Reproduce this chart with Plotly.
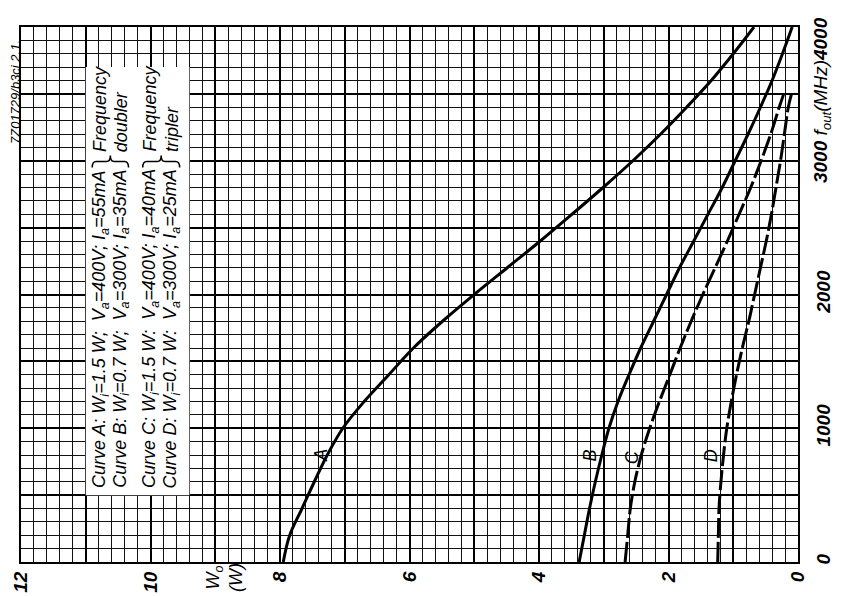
import plotly.graph_objects as go

# output frequency (MHz) and output power Wo (W)
f_ab = [0, 200, 400, 600, 800, 1000, 1200, 1400, 1600, 1800, 2000,
        2200, 2400, 2600, 2800, 3000, 3200, 3400, 3600, 3800, 4000]
w_a = [7.95, 7.85, 7.66, 7.47, 7.27, 7.03, 6.70, 6.32, 5.94, 5.49, 5.00,
       4.49, 3.98, 3.49, 3.01, 2.55, 2.12, 1.72, 1.34, 1.00, 0.68]
w_b = [3.38, 3.30, 3.22, 3.13, 3.03, 2.92, 2.78, 2.61, 2.43, 2.23, 2.03,
       1.83, 1.61, 1.39, 1.17, 0.97, 0.77, 0.58, 0.40, 0.24, 0.09]

f_cd = [0, 200, 400, 600, 800, 1000, 1200, 1400, 1600, 1800, 2000,
        2200, 2400, 2600, 2800, 3000, 3200, 3400, 3500]
w_c = [2.67, 2.63, 2.59, 2.52, 2.42, 2.29, 2.14, 1.98, 1.82, 1.65, 1.47,
       1.28, 1.09, 0.91, 0.73, 0.57, 0.42, 0.29, 0.22]
w_d = [1.24, 1.23, 1.22, 1.19, 1.15, 1.10, 1.03, 0.95, 0.86, 0.76, 0.67,
       0.58, 0.49, 0.41, 0.34, 0.27, 0.21, 0.15, 0.10]

w_ticks = list(range(0, 13))
w_labels = [str(v) if v % 2 == 0 else "" for v in w_ticks]
f_ticks = list(range(0, 4001, 500))
# 3000 and 4000 are printed together with the axis name, see below
f_labels = [str(v) if v % 1000 == 0 and v < 3000 else "" for v in f_ticks]

legend_lines = [
    "Curve A: W<sub>i</sub>=1.5 W;  V<sub>a</sub>=400V; I<sub>a</sub>=55mA",
    "Curve B: W<sub>i</sub>=0.7 W;  V<sub>a</sub>=300V; I<sub>a</sub>=35mA",
    "Curve C: W<sub>i</sub>=1.5 W:  V<sub>a</sub>=400V; I<sub>a</sub>=40mA",
    "Curve D: W<sub>i</sub>=0.7 W:  V<sub>a</sub>=300V; I<sub>a</sub>=25mA",
]
mode_lines = ["Frequency", "doubler", "Frequency", "tripler"]

FONT = "Liberation Sans"

fig = go.Figure()

solid = dict(color="black", width=3)
dashed = dict(color="black", width=3, dash="20px,4px")
fig.add_trace(go.Scatter(x=w_a, y=f_ab, mode="lines", line=solid, line_shape="spline"))
fig.add_trace(go.Scatter(x=w_b, y=f_ab, mode="lines", line=solid, line_shape="spline"))
fig.add_trace(go.Scatter(x=w_c, y=f_cd, mode="lines", line=dashed, line_shape="spline"))
fig.add_trace(go.Scatter(x=w_d, y=f_cd, mode="lines", line=dashed, line_shape="spline"))

# white patch behind the legend text
fig.add_shape(type="rect", x0=9.4, x1=11.0, y0=500, y1=3700,
              fillcolor="white", line_width=0, layer="between")


def note(text, x, y, size=18, ref="data", weight="normal", **kw):
    if ref == "paper":
        kw.update(xref="paper", yref="paper", xanchor="center", yanchor="middle")
    fig.add_annotation(x=x, y=y, text=text, showarrow=False, textangle=-90,
                       font=dict(family=FONT, size=size, color="black",
                                 style="italic", weight=weight), **kw)


def brace(xl, xr, y0, y1):
    # curly bracket spanning two text lines, tip pointing to higher f
    xm = (xl + xr) / 2
    y2 = y1 + (y1 - y0)
    d = 0.06
    path = (f"M {xl},{y0} Q {xl},{y1} {xl - d},{y1} L {xm + d},{y1} "
            f"Q {xm},{y1} {xm},{y2} Q {xm},{y1} {xm - d},{y1} "
            f"L {xr + d},{y1} Q {xr},{y1} {xr},{y0}")
    fig.add_shape(type="path", path=path, line=dict(color="black", width=1.5))


# curve letters
note("A", 7.37, 800)
note("B", 3.22, 793)
note("C", 2.56, 785)
note("D", 1.34, 793)

# legend block, one column per text line
line_w = [10.78, 10.46, 10.00, 9.67]
for txt, mode, w in zip(legend_lines, mode_lines, line_w):
    note(txt, w, 538, yanchor="bottom")
    note(mode, w, 3050, yanchor="bottom")
brace(10.90, 10.34, 2950, 2995)
brace(10.12, 9.55, 2950, 2995)

# axis names and drawing code (outside the plot, so paper coords)
note("W<sub>o</sub><br>(W)", 0.2613, -0.03, ref="paper")
note("<b>3000</b> f<sub>out</sub>(MHz)<b>4000</b>", 1.031, 0.8636, size=19, ref="paper")
note("7Z01729/b3ci 2.1.", -0.0077, 0.8785, size=13, ref="paper")

tick_font = dict(family=FONT, size=19, color="black", style="italic", weight="bold")
fig.update_xaxes(range=[12, 0], tickvals=w_ticks, ticktext=w_labels, tickangle=-90,
                 automargin=False, ticklabeloverflow="allow",
                 showgrid=True, gridcolor="black", gridwidth=2,
                 minor=dict(dtick=0.2, showgrid=True, gridcolor="#111", gridwidth=1),
                 showline=True, linecolor="black", linewidth=2, mirror=True,
                 zeroline=False, ticks="", tickfont=tick_font)
fig.update_yaxes(range=[0, 4000], tickvals=f_ticks, ticktext=f_labels, tickangle=-90,
                 side="right", ticklabelstandoff=7, automargin=False,
                 ticklabeloverflow="allow",
                 showgrid=True, gridcolor="black", gridwidth=2,
                 minor=dict(dtick=100, showgrid=True, gridcolor="#111", gridwidth=1),
                 showline=True, linecolor="black", linewidth=2, mirror=True,
                 zeroline=False, ticks="", tickfont=tick_font)

# the page body adds an 8px offset, so the margins are shifted by it
fig.update_layout(width=841, height=596, autosize=False, showlegend=False,
                  margin=dict(l=13, r=51, t=19, b=42),
                  plot_bgcolor="white", paper_bgcolor="white")

fig.write_html("out.html")
